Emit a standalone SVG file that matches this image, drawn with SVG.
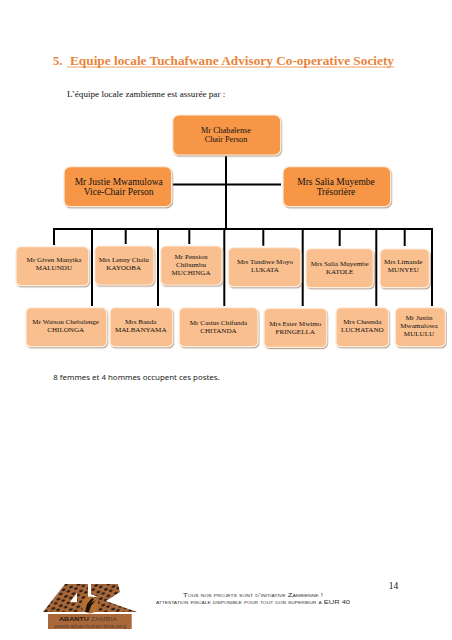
<svg xmlns="http://www.w3.org/2000/svg" width="452" height="640" viewBox="0 0 452 640">
<style>
text{font-family:"Liberation Serif",serif;fill:#111;text-anchor:middle}
.n{font-size:7.100px}
.m{font-size:8.200px}
.t{font-size:9.500px}
.d{fill:#f79646;stroke:#fdeede;stroke-width:1.2;filter:url(#s)}
.l{fill:#fabf8f;stroke:#fdeede;stroke-width:1.2;filter:url(#s)}
.c{stroke:#000;stroke-width:2;fill:none}
.f{font-family:"Liberation Sans",sans-serif;font-size:6.200px;fill:#333;font-variant:small-caps}
</style>
<defs>
<filter id="s" x="-10%" y="-10%" width="125%" height="125%"><feDropShadow dx="0.8" dy="1.2" stdDeviation="0.5" flood-color="#a89080" flood-opacity="0.8"/></filter>
<pattern id="leo" width="8" height="7" patternUnits="userSpaceOnUse" patternTransform="rotate(-20)"><rect width="8" height="7" fill="#a8683a"/><ellipse cx="2" cy="2" rx="2" ry="1.300" fill="#2a1a10"/><ellipse cx="6" cy="5" rx="1.800" ry="1.200" fill="#2a1a10"/></pattern>
</defs>
<rect width="452" height="640" fill="#fff"/>
<text x="53" y="65" style="font-size:12.500px;font-weight:700;fill:#e8853c;text-anchor:start">5.</text>
<text x="70" y="65" textLength="324" lengthAdjust="spacingAndGlyphs" style="font-size:12.500px;font-weight:700;fill:#e8853c;text-anchor:start">Equipe locale Tuchafwane Advisory Co-operative Society</text>
<line x1="67" y1="67" x2="394" y2="67" stroke="#e8853c" stroke-width="0.8"/>
<text x="67" y="97" style="font-size:9.150px;text-anchor:start">L’équipe locale zambienne est assurée par :</text>
<g id="connectors">
<path class="c" d="M226 156V230M172.700 184.500H281M54 245V229H432V306M92 229V306M125.700 229V244M158 229V306M189.300 229V244M224.300 229V306M263.300 229V245.700M302.700 229V306M339.700 229V246M376.300 229V306M404.700 229V246"/>
</g>
<g id="n1"><rect class="d" x="172.700" y="115" width="108" height="40" rx="6"/><text class="m" x="226" y="132.700">Mr Chabalense</text><text class="m" x="226" y="142">Chair Person</text></g>
<g id="n2"><rect class="d" x="64" y="166.700" width="107.700" height="40" rx="6"/><text class="t" x="118.700" y="185">Mr Justie Mwamulowa</text><text class="t" x="118.700" y="195">Vice-Chair Person</text></g>
<g id="n3"><rect class="d" x="283" y="166.700" width="107.700" height="40" rx="6"/><text class="t" x="336" y="185">Mrs Salia Muyembe</text><text class="t" x="336" y="195">Trésorière</text></g>
<g id="n4"><rect class="l" x="16" y="246.700" width="72.700" height="39" rx="5"/><text class="n" x="54" y="262.300">Mr Given Manyika</text><text class="n" x="54" y="270">MALUNDU</text></g>
<g id="n5"><rect class="l" x="94.700" y="246" width="59.300" height="39" rx="5"/><text class="n" x="123.700" y="262">Mrs Lenny Chalu</text><text class="n" x="123.700" y="270">KAYOOBA</text></g>
<g id="n6"><rect class="l" x="160.700" y="246" width="61.300" height="39" rx="5"/><text class="n" x="191" y="259">Mr Pension</text><text class="n" x="191" y="266.700">Chibumbu</text><text class="n" x="191" y="274.700">MUCHINGA</text></g>
<g id="n7"><rect class="l" x="228.300" y="247.700" width="72.400" height="39" rx="5"/><text class="n" x="265" y="264.300">Mrs Tandiwe Moyo</text><text class="n" x="265" y="272">LUKATA</text></g>
<g id="n8"><rect class="l" x="306" y="248.700" width="67.300" height="39" rx="5"/><text class="n" x="339.700" y="265.700">Mrs Salia Muyembe</text><text class="n" x="339.700" y="273.700">KATOLE</text></g>
<g id="n9"><rect class="l" x="380" y="249" width="49.300" height="38.700" rx="5"/><text class="n" x="403.300" y="264.300">Mrs Limande</text><text class="n" x="403.300" y="272.300">MUNYEU</text></g>
<g id="n10"><rect class="l" x="26" y="307.700" width="80.700" height="39" rx="5"/><text class="n" x="65.700" y="324">Mr Watson Chebalenge</text><text class="n" x="65.700" y="331.700">CHILONGA</text></g>
<g id="n11"><rect class="l" x="110" y="307.700" width="62.700" height="39" rx="5"/><text class="n" x="140.700" y="324">Mrs Banda</text><text class="n" x="140.700" y="332">MALBANYAMA</text></g>
<g id="n12"><rect class="l" x="179.300" y="307.700" width="78.700" height="39" rx="5"/><text class="n" x="218.500" y="325">Mr Casius Chifunda</text><text class="n" x="218.500" y="332.700">CHITANDA</text></g>
<g id="n13"><rect class="l" x="264" y="308.300" width="62.700" height="39" rx="5"/><text class="n" x="295.300" y="325.700">Mrs Ester Mwimo</text><text class="n" x="295.300" y="333.700">FRINGELLA</text></g>
<g id="n14"><rect class="l" x="336" y="307.700" width="52.700" height="39" rx="5"/><text class="n" x="362.300" y="323.700">Mrs Cheenda</text><text class="n" x="362.300" y="331.700">LUCHATANO</text></g>
<g id="n15"><rect class="l" x="395.300" y="307.700" width="50" height="39" rx="5"/><text class="n" x="419" y="320">Mr Justin</text><text class="n" x="419" y="327.700">Mwamulowa</text><text class="n" x="419" y="335.700">MULULU</text></g>
<text x="53.300" y="379.700" style="font-family:'Noto Sans',sans-serif;font-size:7.900px;text-anchor:start;fill:#222">8 femmes et 4 hommes occupent ces postes.</text>
<text x="393.500" y="588.700" style="font-size:9.500px">14</text>
<text class="f" x="253" y="596.700" textLength="140" lengthAdjust="spacingAndGlyphs">Tous nos projets sont d’initiative Zambienne !</text>
<text class="f" x="253" y="604.200" textLength="194" lengthAdjust="spacingAndGlyphs">attestation fiscale disponible pour tout don superieur a EUR 40</text>
<g id="logo">
<path fill="url(#leo)" d="M43 612L65 584H88V597H98L91 594V584H118L120 592L106 601L137 612Z"/>
<path fill="#fff" d="M70 602L77 593V602Z"/>
<circle cx="90" cy="605" r="8.500" fill="#b5702f"/>
<path fill="#1c120a" d="M85 612L87 604L92 598L94 599L91 603L96 600L91 606L89 612Z"/>
<rect x="48" y="614" width="83.700" height="15" fill="#a8683a"/>
<text x="88" y="621" textLength="58" lengthAdjust="spacingAndGlyphs" style="font-family:'Liberation Sans',sans-serif;font-size:6px;font-weight:700;fill:#2a1a10">ABANTU <tspan style="font-weight:400;fill:#5a4030">ZAMBIA</tspan></text>
<text x="90" y="627.700" textLength="72" lengthAdjust="spacingAndGlyphs" style="font-family:'Liberation Sans',sans-serif;font-size:5.200px;fill:#5a4030">www.abantuzambia.org</text>
</g>
</svg>
